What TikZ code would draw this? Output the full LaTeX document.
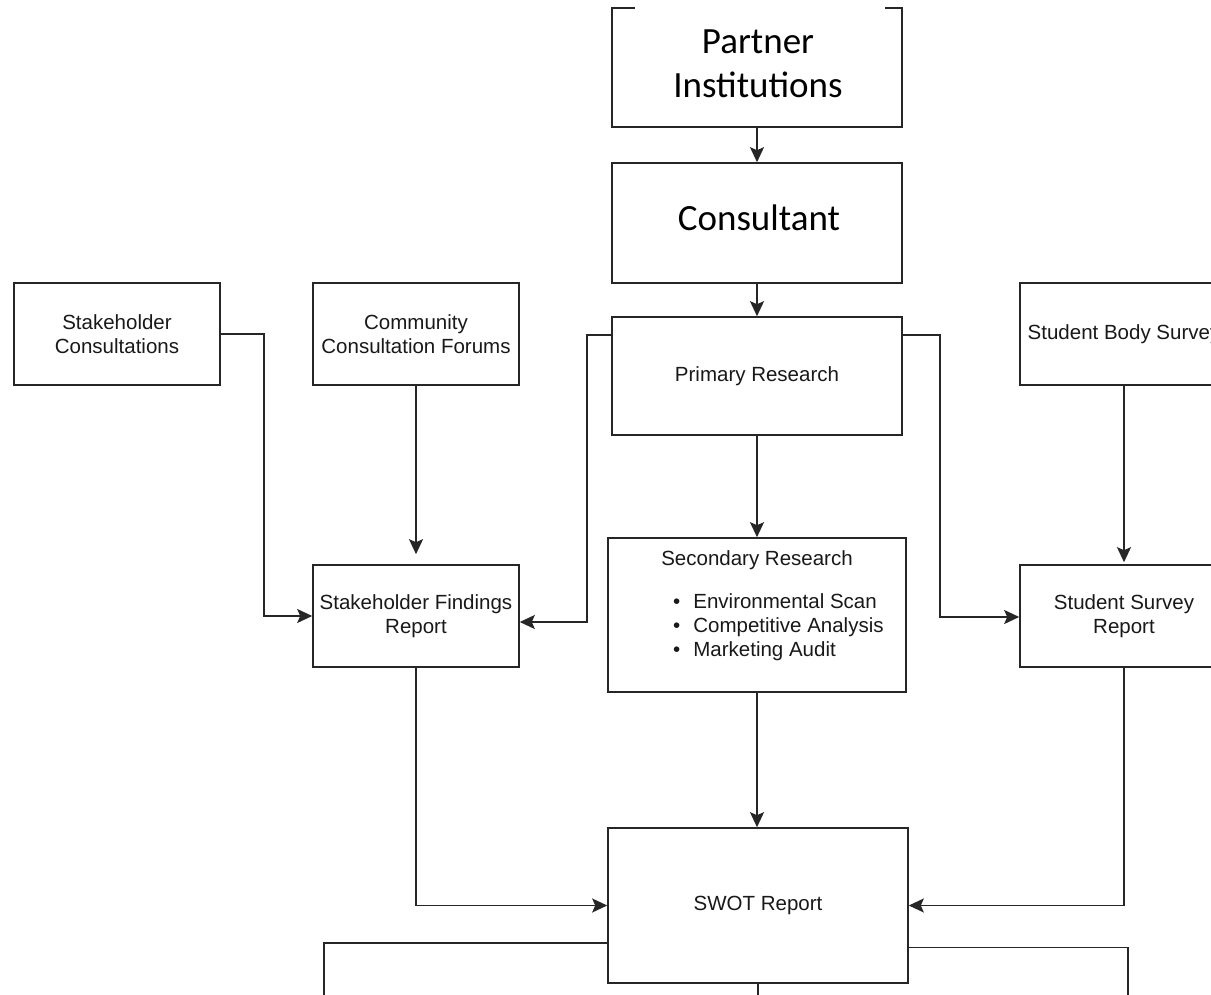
\documentclass[tikz,border=0pt]{standalone}
\usepackage{fontspec}
\setmainfont{Liberation Sans}
\newfontfamily\calibrifont{Carlito}
\usetikzlibrary{arrows.meta}
\tikzset{
  box/.style={draw=black!85, line width=1.6pt, rectangle, inner sep=0pt, align=center,
    font=\fontsize{20.5}{24}\selectfont, text=black!90},
  bigbox/.style={box, font=\calibrifont\fontsize{37}{44}\selectfont, text=black},
  plainbox/.style={rectangle, inner sep=0pt, align=center, font=\calibrifont\fontsize{37}{44}\selectfont},
  conn/.style={draw=black!85, line width=1.6pt},
  arr/.style={conn, -{Stealth[length=15pt,width=14pt,inset=3pt]}},
  txt/.style={inner sep=0pt, font=\fontsize{20.5}{24}\selectfont, text=black!90}
}
\begin{document}
\begin{tikzpicture}[x=1pt,y=-1pt]
\useasboundingbox[fill=white] (0,0) rectangle (1211,995);
% top boxes
\node[plainbox, minimum width=290pt, minimum height=119pt] (partner) at (757,67.5) {};
\node[plainbox] (partnertext) at (758,63.5) {Partner\\Institutions};
\draw[conn] ([xshift=23pt]partner.north west) -- (partner.north west) -- (partner.south west)
   -- (partner.south east) -- (partner.north east) -- ([xshift=-17pt]partner.north east);
\node[bigbox, minimum width=290pt, minimum height=120pt] (consultant) at (757,223) {};
\node[plainbox] (consultanttext) at (759,218) {Consultant};
\node[box, minimum width=290pt, minimum height=118pt] (primary) at (757,376) {Primary Research};
% row of sources
\node[box, minimum width=206pt, minimum height=102pt] (stakecons) at (117,334) {Stakeholder\\Consultations};
\node[box, minimum width=206pt, minimum height=102pt] (community) at (416,334) {Community\\Consultation Forums};
\node[box, minimum width=208pt, minimum height=102pt] (studbody) at (1124,334) {Student Body Survey};
% reports
\node[box, minimum width=206pt, minimum height=102pt] (findings) at (416,616) {Stakeholder Findings\\Report};
\node[box, minimum width=298pt, minimum height=154pt] (secondary) at (757,615) {};
\node[txt] (sectitle) at (757,560) {Secondary Research};
\node[txt, anchor=west] (seclist) at (673,628) {\begin{tabular}{@{}l@{\hspace{13pt}}l@{}}
\textbullet & Environmental Scan\\
\textbullet & Competitive Analysis\\
\textbullet & Marketing Audit
\end{tabular}};
\node[box, minimum width=208pt, minimum height=102pt] (studreport) at (1124,616) {Student Survey\\Report};
\node[box, minimum width=300pt, minimum height=155pt] (swot) at (758,905.5) {SWOT Report};
% free ends
\coordinate (outL) at (324,1000);
\coordinate (outR) at (1128,1000);
\coordinate (outB) at (758,1000);
% connectors
\draw[arr] (partner.south) -- (consultant.north);
\draw[arr] (consultant.south) -- (primary.north);
\draw[arr] (primary.south) -- (secondary.north);
\draw[arr] (secondary.south) -- (secondary.south |- swot.north);
\draw[arr] (stakecons.east) -| ([xshift=-48pt]findings.west) -- (findings.west);
\draw[arr] (community.south) -- ([yshift=10pt]findings.north);
\draw[arr] ([yshift=41pt]primary.west) -- (587,335) -- (587,622) -- ([yshift=-6pt]findings.east);
\draw[arr] ([yshift=41pt]primary.east) -- (940,335) -- (940,617) -- ([yshift=-1pt]studreport.west);
\draw[arr] (studbody.south) -- ([yshift=2pt]studreport.north);
\draw[arr] (findings.south) |- (swot.west);
\draw[arr] (studreport.south) |- (swot.east);
\draw[conn] ([yshift=-37.5pt]swot.west) -| (outL);
\draw[conn] ([yshift=-42pt]swot.east) -| (outR);
\draw[conn] (swot.south) -- (outB);
\end{tikzpicture}
\end{document}
